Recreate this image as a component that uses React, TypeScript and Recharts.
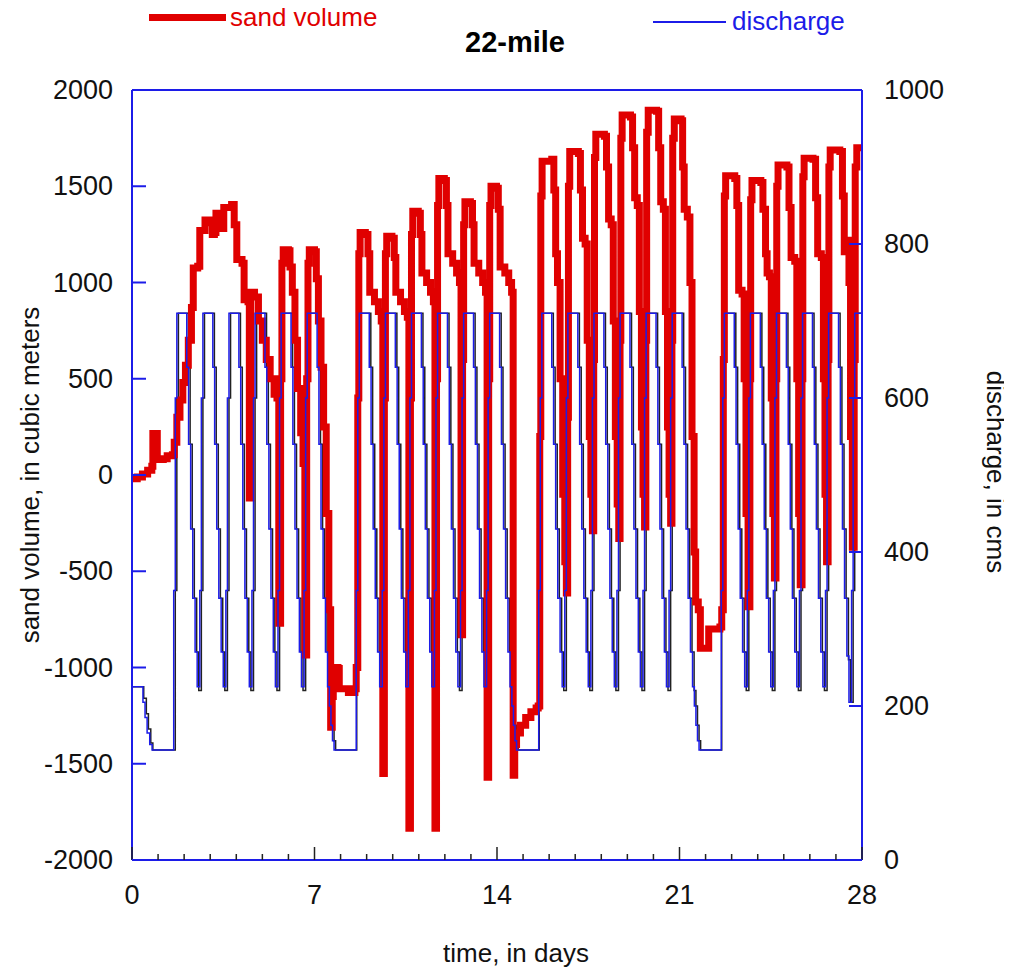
import React from 'react';
import { LineChart, Line, XAxis, YAxis, ReferenceLine } from 'recharts';

const RED = '#e00000';
const BLUE = '#1c1ce8';
const BLACK = '#222222';
const FONT = '"Liberation Sans", Arial, Helvetica, sans-serif';

const dayTicks = [0, 1, 2, 3, 4, 5, 6, 7, 8, 9, 10, 11, 12, 13, 14, 15, 16, 17, 18, 19, 20, 21, 22, 23, 24, 25, 26, 27, 28];
const labeledDays = [0, 7, 14, 21, 28];
const volumeTicks = [-2000, -1500, -1000, -500, 0, 500, 1000, 1500, 2000];
const dischargeTicks = [0, 200, 400, 600, 800, 1000];

// sand volume, cubic meters: [day, volume]
const sandVolume: [number, number][] = [
  [0, -20], [0.2, -10], [0.4, 5], [0.6, 25], [0.76, 45], [0.8, 215], [0.93, 215], [0.97, 80], [1.2, 85], [1.35, 100], [1.55, 105],
  [1.62, 170], [1.72, 300], [1.84, 390], [1.95, 480], [2.05, 570], [2.16, 700], [2.28, 870], [2.35, 1075], [2.52, 1085], [2.6, 1270],
  [2.8, 1325], [3.0, 1310], [3.08, 1250], [3.16, 1260], [3.22, 1360], [3.36, 1300], [3.45, 1280], [3.52, 1390], [3.82, 1405],
  [3.92, 1300], [4.02, 1120], [4.22, 1100], [4.3, 910], [4.45, 900],
  [4.5, -120], [4.56, 950], [4.7, 925], [4.85, 800], [5.0, 700], [5.15, 600], [5.3, 500], [5.45, 420], [5.56, 400],
  [5.63, -770], [5.7, 500], [5.75, 1100], [5.8, 1170], [6.0, 1165], [6.06, 1080], [6.15, 950], [6.25, 700], [6.35, 450], [6.47, 220], [6.56, 60],
  [6.63, -935], [6.7, 500], [6.75, 1100], [6.8, 1170], [7.0, 1160], [7.07, 1020], [7.15, 800], [7.25, 560], [7.35, 250], [7.45, -200],
  [7.55, -700], [7.62, -1310], [7.68, -1150], [7.72, -1000], [7.9, -1005], [7.95, -1110], [8.3, -1130], [8.55, -1110], [8.6, -1000],
  [8.66, 400], [8.7, 1150], [8.75, 1260], [8.95, 1250], [9.05, 1150], [9.12, 950], [9.3, 900], [9.45, 850], [9.56, 800],
  [9.62, -1550], [9.68, 400], [9.72, 1150], [9.77, 1240], [9.97, 1230], [10.06, 1130], [10.12, 950], [10.3, 900], [10.45, 850], [10.56, 820],
  [10.62, -1835], [10.68, 400], [10.72, 1250], [10.77, 1370], [10.98, 1360], [11.06, 1250], [11.12, 1050], [11.3, 1000], [11.45, 950], [11.56, 900],
  [11.62, -1835], [11.68, 500], [11.72, 1400], [11.77, 1540], [11.98, 1530], [12.06, 1400], [12.12, 1150], [12.3, 1100], [12.45, 1050], [12.56, 1000],
  [12.62, -830], [12.68, 600], [12.72, 1300], [12.77, 1420], [12.98, 1410], [13.06, 1300], [13.12, 1100], [13.3, 1050], [13.45, 1000], [13.56, 950],
  [13.62, -1570], [13.68, 500], [13.72, 1400], [13.77, 1500], [13.98, 1490], [14.05, 1380], [14.12, 1080], [14.3, 1050], [14.45, 1000], [14.56, 950],
  [14.62, -1560], [14.68, -1400], [14.75, -1340], [14.9, -1300], [15.1, -1260], [15.3, -1230], [15.5, -1210], [15.58, -1200],
  [15.64, 200], [15.68, 1450], [15.73, 1630], [16.1, 1640], [16.18, 1480], [16.25, 1150], [16.32, 1000], [16.42, 500], [16.52, -100], [16.6, -450], [16.66, -613],
  [16.71, 300], [16.74, 1500], [16.79, 1680], [17.12, 1670], [17.2, 1480], [17.28, 1230], [17.38, 1200], [17.46, 700], [17.54, 200], [17.6, -100], [17.66, -290],
  [17.71, 600], [17.74, 1650], [17.79, 1770], [18.12, 1760], [18.2, 1600], [18.28, 1330], [18.38, 1300], [18.46, 800], [18.54, 200], [18.61, -150], [18.67, -330],
  [18.72, 700], [18.75, 1750], [18.8, 1870], [19.12, 1860], [19.2, 1700], [19.28, 1440], [19.38, 1400], [19.46, 850], [19.54, 250], [19.6, -100], [19.66, -270],
  [19.71, 700], [19.74, 1780], [19.8, 1895], [20.12, 1890], [20.2, 1700], [20.28, 1420], [20.38, 1380], [20.46, 850], [20.54, 250], [20.6, -100], [20.66, -250],
  [20.71, 700], [20.74, 1750], [20.8, 1850], [21.06, 1840], [21.12, 1600], [21.18, 1380], [21.3, 1340], [21.4, 1000],
  [21.48, 200], [21.56, -400], [21.62, -660], [21.72, -700], [21.8, -900], [22.08, -900], [22.12, -800], [22.55, -790], [22.62, -700],
  [22.68, 600], [22.72, 1450], [22.77, 1555], [23.12, 1540], [23.2, 1400], [23.27, 960], [23.4, 940], [23.48, 500], [23.55, -200], [23.63, -685],
  [23.7, 500], [23.73, 1430], [23.78, 1530], [24.12, 1520], [24.2, 1380], [24.3, 1150], [24.36, 1050], [24.45, 1030], [24.52, 400], [24.58, -200], [24.64, -535],
  [24.7, 500], [24.73, 1500], [24.78, 1610], [25.12, 1600], [25.2, 1390], [25.28, 1130], [25.42, 1110], [25.5, 500], [25.57, -200], [25.63, -570],
  [25.7, 500], [25.73, 1550], [25.78, 1645], [26.12, 1640], [26.22, 1440], [26.3, 1150], [26.44, 1130], [26.52, 500], [26.58, -100], [26.64, -450],
  [26.7, 600], [26.73, 1600], [26.78, 1688], [27.15, 1680], [27.25, 1450], [27.32, 1160], [27.42, 1160], [27.46, 1220], [27.5, 1000], [27.56, 200], [27.63, -375],
  [27.7, 600], [27.74, 1600], [27.8, 1700], [28, 1700],
];

// discharge (cms), blue trace: [day, discharge]
const dischargeBlue: [number, number][] = [
  [0, 225], [0.42, 205], [0.5, 185], [0.58, 165], [0.68, 150], [0.77, 143],
  [1.6, 350], [1.66, 600], [1.72, 710], [2.1, 640], [2.17, 540], [2.25, 430], [2.33, 340], [2.42, 270], [2.5, 225],
  [2.6, 350], [2.66, 600], [2.72, 710], [3.1, 640], [3.17, 540], [3.25, 430], [3.33, 340], [3.42, 270], [3.5, 225],
  [3.6, 350], [3.66, 600], [3.72, 710], [4.1, 640], [4.17, 540], [4.25, 430], [4.33, 340], [4.42, 270], [4.5, 225],
  [4.6, 350], [4.66, 600], [4.72, 710], [5.1, 640], [5.17, 540], [5.25, 430], [5.33, 340], [5.42, 270], [5.5, 225],
  [5.6, 350], [5.66, 600], [5.72, 710], [6.1, 640], [6.17, 540], [6.25, 430], [6.33, 340], [6.42, 270], [6.5, 225],
  [6.6, 350], [6.66, 600], [6.72, 710], [7.1, 640], [7.17, 540], [7.25, 430], [7.33, 340], [7.42, 270], [7.5, 225],
  [7.57, 200], [7.63, 175], [7.69, 155], [7.75, 143],
  [8.6, 350], [8.66, 600], [8.72, 710], [9.1, 640], [9.17, 540], [9.25, 430], [9.33, 340], [9.42, 270], [9.5, 225],
  [9.6, 350], [9.66, 600], [9.72, 710], [10.1, 640], [10.17, 540], [10.25, 430], [10.33, 340], [10.42, 270], [10.5, 225],
  [10.6, 350], [10.66, 600], [10.72, 710], [11.1, 640], [11.17, 540], [11.25, 430], [11.33, 340], [11.42, 270], [11.5, 225],
  [11.6, 350], [11.66, 600], [11.72, 710], [12.1, 640], [12.17, 540], [12.25, 430], [12.33, 340], [12.42, 270], [12.5, 225],
  [12.6, 350], [12.66, 600], [12.72, 710], [13.1, 640], [13.17, 540], [13.25, 430], [13.33, 340], [13.42, 270], [13.5, 225],
  [13.6, 350], [13.66, 600], [13.72, 710], [14.1, 640], [14.17, 540], [14.25, 430], [14.33, 340], [14.42, 270], [14.5, 225],
  [14.57, 200], [14.63, 175], [14.69, 155], [14.75, 143],
  [15.6, 350], [15.66, 600], [15.72, 710], [16.1, 640], [16.17, 540], [16.25, 430], [16.33, 340], [16.42, 270], [16.5, 225],
  [16.6, 350], [16.66, 600], [16.72, 710], [17.1, 640], [17.17, 540], [17.25, 430], [17.33, 340], [17.42, 270], [17.5, 225],
  [17.6, 350], [17.66, 600], [17.72, 710], [18.1, 640], [18.17, 540], [18.25, 430], [18.33, 340], [18.42, 270], [18.5, 225],
  [18.6, 350], [18.66, 600], [18.72, 710], [19.1, 640], [19.17, 540], [19.25, 430], [19.33, 340], [19.42, 270], [19.5, 225],
  [19.6, 350], [19.66, 600], [19.72, 710], [20.1, 640], [20.17, 540], [20.25, 430], [20.33, 340], [20.42, 270], [20.5, 225],
  [20.6, 350], [20.66, 600], [20.72, 710], [21.1, 640], [21.17, 540], [21.25, 430], [21.33, 340], [21.42, 270], [21.5, 225],
  [21.57, 200], [21.63, 175], [21.69, 155], [21.75, 143],
  [22.6, 350], [22.66, 600], [22.72, 710], [23.1, 640], [23.17, 540], [23.25, 430], [23.33, 340], [23.42, 270], [23.5, 225],
  [23.6, 350], [23.66, 600], [23.72, 710], [24.1, 640], [24.17, 540], [24.25, 430], [24.33, 340], [24.42, 270], [24.5, 225],
  [24.6, 350], [24.66, 600], [24.72, 710], [25.1, 640], [25.17, 540], [25.25, 430], [25.33, 340], [25.42, 270], [25.5, 225],
  [25.6, 350], [25.66, 600], [25.72, 710], [26.1, 640], [26.17, 540], [26.25, 430], [26.33, 340], [26.42, 270], [26.5, 225],
  [26.6, 350], [26.66, 600], [26.72, 710], [27.1, 640], [27.17, 540], [27.25, 430], [27.33, 340], [27.42, 265], [27.5, 205],
  [27.6, 350], [27.66, 600], [27.72, 710], [28, 710],
];

// discharge (cms), black trace (slightly lagged record): [day, discharge]
const dischargeBlack: [number, number][] = [
  [0, 225], [0.45, 210], [0.55, 190], [0.63, 170], [0.72, 152], [0.8, 143],
  [1.66, 350], [1.72, 600], [1.78, 710], [2.16, 640], [2.23, 540], [2.31, 430], [2.39, 340], [2.48, 270], [2.56, 220],
  [2.66, 350], [2.72, 600], [2.78, 710], [3.16, 640], [3.23, 540], [3.31, 430], [3.39, 340], [3.48, 270], [3.56, 220],
  [3.66, 350], [3.72, 600], [3.78, 710], [4.16, 640], [4.23, 540], [4.31, 430], [4.39, 340], [4.48, 270], [4.56, 220],
  [4.66, 350], [4.72, 600], [4.78, 710], [5.16, 640], [5.23, 540], [5.31, 430], [5.39, 340], [5.48, 270], [5.56, 220],
  [5.66, 350], [5.72, 600], [5.78, 710], [6.16, 640], [6.23, 540], [6.31, 430], [6.39, 340], [6.48, 270], [6.56, 220],
  [6.66, 350], [6.72, 600], [6.78, 710], [7.16, 640], [7.23, 540], [7.31, 430], [7.39, 340], [7.48, 270], [7.56, 220],
  [7.63, 200], [7.69, 175], [7.75, 155], [7.81, 143],
  [8.62, 350], [8.68, 600], [8.76, 710], [9.16, 640], [9.23, 540], [9.31, 430], [9.39, 340], [9.48, 270], [9.56, 220],
  [9.66, 350], [9.72, 600], [9.78, 710], [10.16, 640], [10.23, 540], [10.31, 430], [10.39, 340], [10.48, 270], [10.56, 220],
  [10.66, 350], [10.72, 600], [10.78, 710], [11.16, 640], [11.23, 540], [11.31, 430], [11.39, 340], [11.48, 270], [11.56, 220],
  [11.66, 350], [11.72, 600], [11.78, 710], [12.16, 640], [12.23, 540], [12.31, 430], [12.39, 340], [12.48, 270], [12.56, 220],
  [12.66, 350], [12.72, 600], [12.78, 710], [13.16, 640], [13.23, 540], [13.31, 430], [13.39, 340], [13.48, 270], [13.56, 220],
  [13.66, 350], [13.72, 600], [13.78, 710], [14.16, 640], [14.23, 540], [14.31, 430], [14.39, 340], [14.48, 270], [14.56, 220],
  [14.63, 200], [14.69, 175], [14.75, 155], [14.81, 143],
  [15.62, 350], [15.68, 600], [15.76, 710], [16.16, 640], [16.23, 540], [16.31, 430], [16.39, 340], [16.48, 270], [16.56, 220],
  [16.66, 350], [16.72, 600], [16.78, 710], [17.16, 640], [17.23, 540], [17.31, 430], [17.39, 340], [17.48, 270], [17.56, 220],
  [17.66, 350], [17.72, 600], [17.78, 710], [18.16, 640], [18.23, 540], [18.31, 430], [18.39, 340], [18.48, 270], [18.56, 220],
  [18.66, 350], [18.72, 600], [18.78, 710], [19.16, 640], [19.23, 540], [19.31, 430], [19.39, 340], [19.48, 270], [19.56, 220],
  [19.66, 350], [19.72, 600], [19.78, 710], [20.16, 640], [20.23, 540], [20.31, 430], [20.39, 340], [20.48, 270], [20.56, 220],
  [20.66, 350], [20.72, 600], [20.78, 710], [21.16, 640], [21.23, 540], [21.31, 430], [21.39, 340], [21.48, 270], [21.56, 220],
  [21.63, 200], [21.69, 175], [21.75, 155], [21.81, 143],
  [22.62, 350], [22.68, 600], [22.76, 710], [23.16, 640], [23.23, 540], [23.31, 430], [23.39, 340], [23.48, 270], [23.56, 220],
  [23.66, 350], [23.72, 600], [23.78, 710], [24.16, 640], [24.23, 540], [24.31, 430], [24.39, 340], [24.48, 270], [24.56, 220],
  [24.66, 350], [24.72, 600], [24.78, 710], [25.16, 640], [25.23, 540], [25.31, 430], [25.39, 340], [25.48, 270], [25.56, 220],
  [25.66, 350], [25.72, 600], [25.78, 710], [26.16, 640], [26.23, 540], [26.31, 430], [26.39, 340], [26.48, 270], [26.56, 220],
  [26.66, 350], [26.72, 600], [26.78, 710], [27.16, 640], [27.23, 540], [27.31, 430], [27.39, 340], [27.48, 260], [27.56, 205],
  [27.66, 350], [27.72, 600], [27.78, 710], [28, 710],
];

const toPoints = (pairs: [number, number][]) => pairs.map(([t, v]) => ({ t, v }));
const sandData = toPoints(sandVolume);
const blueData = toPoints(dischargeBlue);
const blackData = toPoints(dischargeBlack);

const LeftTick = (props: any) => {
  const { x, y, payload } = props;
  return (
    <g>
      <line x1={x} x2={x + 14} y1={y} y2={y} stroke={BLUE} strokeWidth={2} />
      <text x={x - 19} y={y} textAnchor="end" dominantBaseline="central" fontSize={27} fill="#111" fontFamily={FONT}>
        {payload.value}
      </text>
    </g>
  );
};

const RightTick = (props: any) => {
  const { x, y, payload } = props;
  return (
    <g>
      <line x1={x - 13} x2={x} y1={y} y2={y} stroke={BLUE} strokeWidth={2} />
      <text x={x + 22} y={y} textAnchor="start" dominantBaseline="central" fontSize={27} fill="#111" fontFamily={FONT}>
        {payload.value}
      </text>
    </g>
  );
};

const BottomTick = (props: any) => {
  const { x, y, payload } = props;
  const major = labeledDays.includes(payload.value);
  return (
    <g>
      <line x1={x} x2={x} y1={y} y2={y - (major ? 13 : 6)} stroke={BLACK} strokeWidth={1.5} />
      {major && (
        <text x={x} y={y + 35} textAnchor="middle" dominantBaseline="central" fontSize={27} fill="#111" fontFamily={FONT}>
          {payload.value}
        </text>
      )}
    </g>
  );
};

const abs = (extra: React.CSSProperties): React.CSSProperties => ({
  position: 'absolute',
  fontFamily: FONT,
  whiteSpace: 'nowrap',
  ...extra,
});

export default function App() {
  return (
    <div style={{ position: 'relative', width: 996, height: 959, background: '#fff' }}>
      <LineChart
        width={996}
        height={959}
        margin={{ top: 82, right: 42, left: 24, bottom: 47 }}
      >
        <XAxis
          dataKey="t"
          type="number"
          domain={[0, 28]}
          ticks={dayTicks}
          interval={0}
          allowDataOverflow
          height={60}
          tickSize={0}
          tickMargin={0}
          tickLine={false}
          axisLine={{ stroke: BLUE, strokeWidth: 2 }}
          tick={BottomTick}
        />
        <YAxis
          yAxisId="vol"
          orientation="left"
          domain={[-2000, 2000]}
          ticks={volumeTicks}
          interval={0}
          width={100}
          tickSize={0}
          tickMargin={0}
          tickLine={false}
          axisLine={{ stroke: BLUE, strokeWidth: 2 }}
          tick={LeftTick}
        />
        <YAxis
          yAxisId="q"
          orientation="right"
          domain={[0, 1000]}
          ticks={dischargeTicks}
          interval={0}
          width={100}
          tickSize={0}
          tickMargin={0}
          tickLine={false}
          axisLine={{ stroke: BLUE, strokeWidth: 2 }}
          tick={RightTick}
        />
        <ReferenceLine yAxisId="vol" y={2000} stroke={BLUE} strokeWidth={2} />
        <Line
          data={blackData}
          dataKey="v"
          yAxisId="q"
          type="stepAfter"
          stroke={BLACK}
          strokeWidth={1.5}
          dot={false}
          activeDot={false}
          isAnimationActive={false}
        />
        <Line
          data={sandData}
          dataKey="v"
          yAxisId="vol"
          type="stepAfter"
          stroke={RED}
          strokeWidth={7}
          dot={false}
          activeDot={false}
          isAnimationActive={false}
        />
        <Line
          data={blueData}
          dataKey="v"
          yAxisId="q"
          type="stepAfter"
          stroke={BLUE}
          strokeWidth={1.5}
          dot={false}
          activeDot={false}
          isAnimationActive={false}
        />
      </LineChart>

      {/* legend */}
      <div style={abs({ left: 141, top: 6, width: 77, height: 7, background: RED })} />
      <div style={abs({ left: 222, top: -4, fontSize: 26, lineHeight: '26px', color: RED })}>sand volume</div>
      <div style={abs({ left: 645, top: 13, width: 73, height: 2, background: BLUE })} />
      <div style={abs({ left: 724, top: 0, fontSize: 26, lineHeight: '26px', color: BLUE })}>discharge</div>

      {/* title */}
      <div style={abs({ left: 507, top: 34, transform: 'translate(-50%, -50%)', fontSize: 29, fontWeight: 'bold', color: '#000' })}>
        22-mile
      </div>

      {/* axis titles */}
      <div style={abs({ left: 22, top: 467, transform: 'translate(-50%, -50%) rotate(-90deg)', fontSize: 26, color: '#111' })}>
        sand volume, in cubic meters
      </div>
      <div style={abs({ left: 987, top: 464, transform: 'translate(-50%, -50%) rotate(90deg)', fontSize: 26, color: '#111' })}>
        discharge, in cms
      </div>
      <div style={abs({ left: 508, top: 945, transform: 'translate(-50%, -50%)', fontSize: 26, color: '#111' })}>
        time, in days
      </div>
    </div>
  );
}
